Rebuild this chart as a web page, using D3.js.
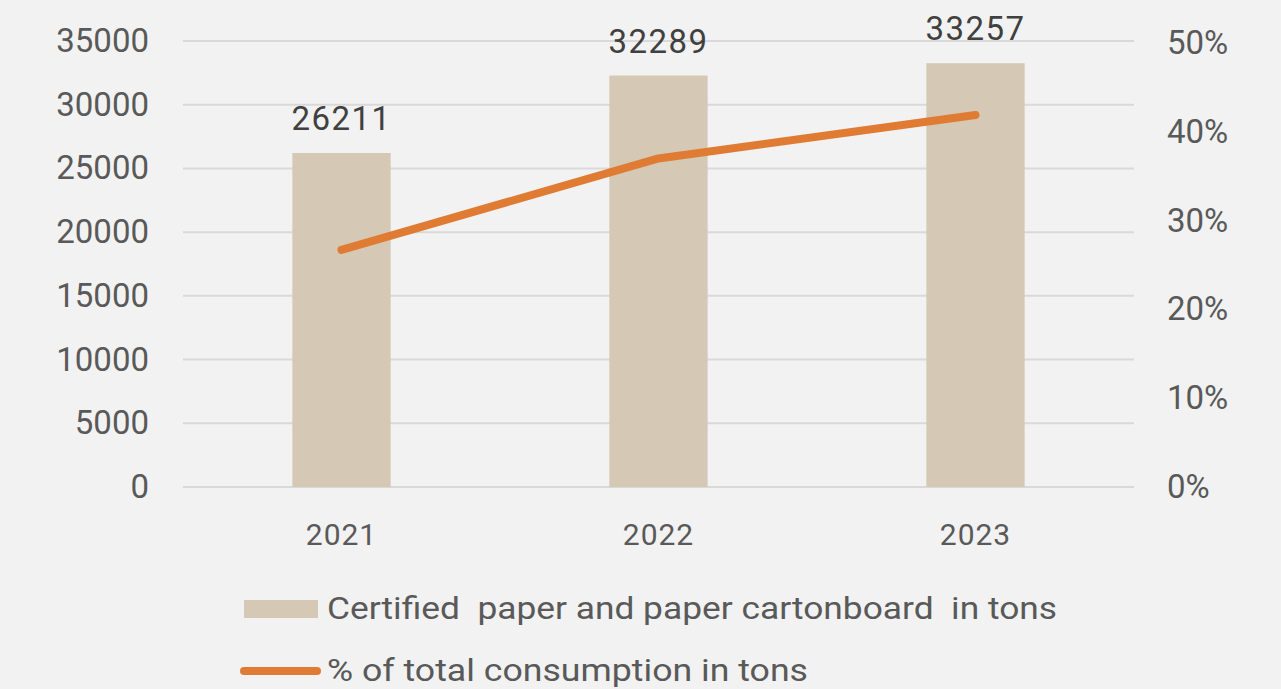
<!DOCTYPE html>
<html>
<head>
<meta charset="utf-8">
<script src="https://cdn.jsdelivr.net/npm/d3@7"></script>
<style>
  body { margin: 0; background: #f2f2f2; }
  svg { display: block; font-family: Roboto, "Open Sans", sans-serif; }
</style>
</head>
<body>
<div id="plot"></div>
<script>
// chart data
const years = ["2021", "2022", "2023"];
const tons = [26211, 32289, 33257];
const share = [0.267, 0.370, 0.419];
const leftTicks = [0, 5000, 10000, 15000, 20000, 25000, 30000, 35000];
const rightTicks = [0, 0.1, 0.2, 0.3, 0.4, 0.5];
const legendLabels = ["Certified  paper and paper cartonboard  in tons", "% of total consumption in tons"];

const W = 1281, H = 689;
const plot = { left: 183, right: 1134, top: 41, bottom: 487 };

const svg = d3.select("#plot").append("svg")
    .attr("width", W)
    .attr("height", H);

svg.append("rect").attr("width", W).attr("height", H).attr("fill", "#f2f2f2");

const x = d3.scaleBand()
    .domain(years)
    .range([plot.left, plot.right])
    .paddingInner(0.69)
    .paddingOuter(0.345);

const y = d3.scaleLinear().domain([0, 35000]).range([plot.bottom, plot.top]);
const y2 = d3.scaleLinear().domain([0, 0.5]).range([plot.bottom, 43]);

// gridlines
svg.append("g")
  .selectAll("line")
  .data(leftTicks)
  .enter().append("line")
    .attr("x1", plot.left).attr("x2", plot.right)
    .attr("y1", d => y(d)).attr("y2", d => y(d))
    .attr("stroke", "#d9d9d9")
    .attr("stroke-width", 2);

// left axis
const axL = svg.append("g")
    .attr("transform", `translate(${plot.left},0)`)
    .call(d3.axisLeft(y).tickValues(leftTicks).tickFormat(d3.format("d")).tickSize(0).tickPadding(34));
axL.select(".domain").remove();
axL.selectAll("text")
    .attr("fill", "#595959")
    .attr("font-size", 33)
    .attr("font-family", "Roboto, sans-serif");

// right axis
const axR = svg.append("g")
    .attr("transform", `translate(${plot.right},0)`)
    .call(d3.axisRight(y2).tickValues(rightTicks).tickFormat(d3.format(".0%")).tickSize(0).tickPadding(33));
axR.select(".domain").remove();
axR.selectAll("text")
    .attr("fill", "#595959")
    .attr("font-size", 33)
    .attr("font-family", "Roboto, sans-serif");

// bottom axis
const axB = svg.append("g")
    .attr("transform", `translate(0,${plot.bottom})`)
    .call(d3.axisBottom(x).tickSize(0).tickPadding(0));
axB.select(".domain").remove();
axB.selectAll("text")
    .attr("dy", 0)
    .attr("y", 58)
    .attr("fill", "#595959")
    .attr("font-size", 30)
    .attr("letter-spacing", 1)
    .attr("font-family", "Roboto, sans-serif");

// bars
svg.selectAll(".bar")
  .data(years)
  .enter().append("rect")
    .attr("class", "bar")
    .attr("x", d => x(d))
    .attr("width", x.bandwidth())
    .attr("y", (d, i) => y(tons[i]))
    .attr("height", (d, i) => plot.bottom - y(tons[i]))
    .attr("fill", "#d5c8b4");

// value labels
svg.selectAll(".val")
  .data(years)
  .enter().append("text")
    .attr("class", "val")
    .attr("x", d => x(d) + x.bandwidth() / 2)
    .attr("y", (d, i) => y(tons[i]) - 23)
    .attr("text-anchor", "middle")
    .attr("fill", "#404040")
    .attr("font-size", 33)
    .attr("letter-spacing", 1.5)
    .text((d, i) => tons[i]);

// line
const line = d3.line()
    .x(d => x(d) + x.bandwidth() / 2)
    .y((d, i) => y2(share[i]));

svg.append("path")
    .datum(years)
    .attr("d", line)
    .attr("fill", "none")
    .attr("stroke", "#e07b34")
    .attr("stroke-width", 8)
    .attr("stroke-linecap", "round")
    .attr("stroke-linejoin", "round");

// legend
svg.append("rect")
    .attr("x", 244).attr("y", 600)
    .attr("width", 74).attr("height", 18)
    .attr("fill", "#d5c8b4");
svg.append("line")
    .attr("x1", 244).attr("x2", 317)
    .attr("y1", 671).attr("y2", 671)
    .attr("stroke", "#e07b34")
    .attr("stroke-width", 8)
    .attr("stroke-linecap", "round");

svg.selectAll(".leg")
  .data(legendLabels)
  .enter().append("text")
    .attr("class", "leg")
    .attr("x", 327)
    .attr("y", (d, i) => i === 0 ? 619 : 681)
    .attr("fill", "#595959")
    .attr("font-size", 32)
    .attr("textLength", (d, i) => i === 0 ? 730 : 481)
    .attr("lengthAdjust", "spacingAndGlyphs")
    .style("white-space", "pre")
    .text(d => d);
</script>
</body>
</html>
